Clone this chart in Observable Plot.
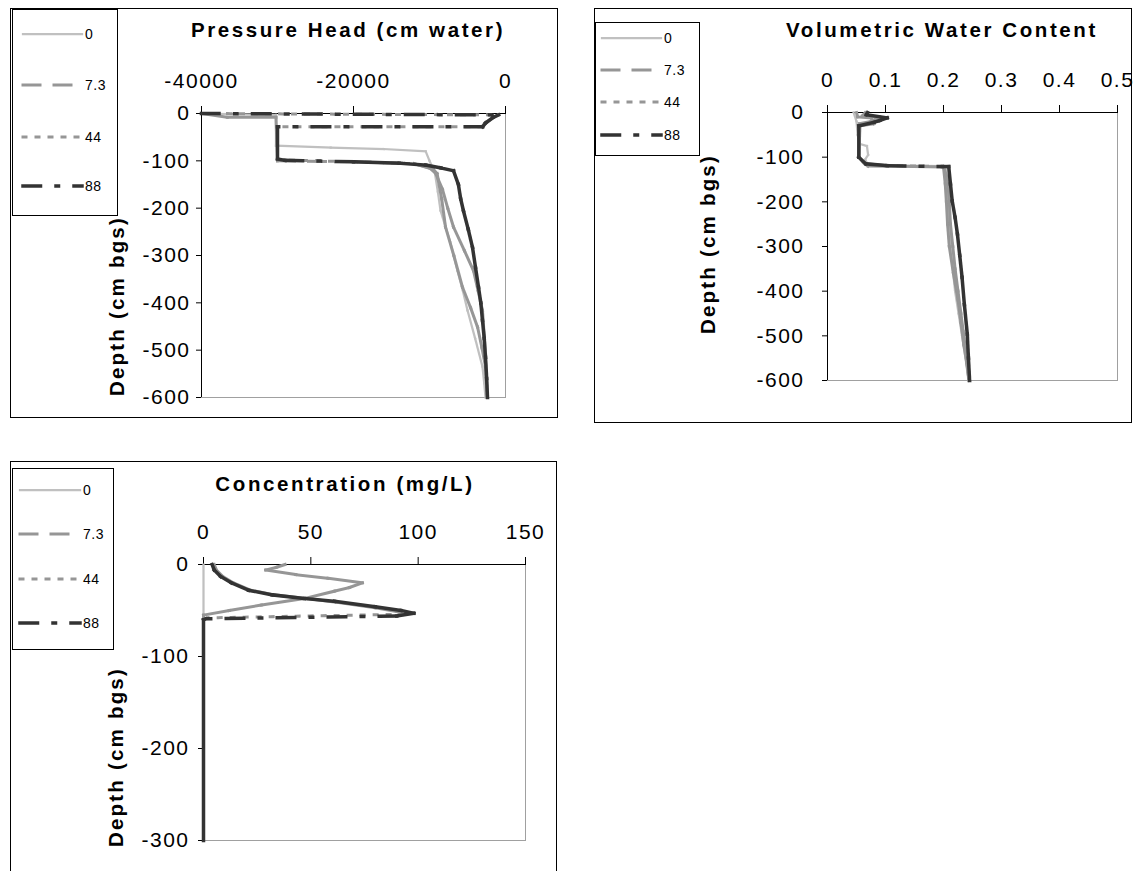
<!DOCTYPE html>
<html><head><meta charset="utf-8">
<script src="https://cdn.jsdelivr.net/npm/d3@7"></script>
<script src="https://cdn.jsdelivr.net/npm/@observablehq/plot@0.6"></script>
<style>
body{margin:0;background:#fff;overflow:hidden;}
#page{position:relative;width:1136px;height:871px;overflow:hidden;font-family:"Liberation Sans",Arial,sans-serif;background:#fff;}
.box{position:absolute;border:1px solid #000;box-sizing:border-box;}
.title{position:absolute;font-weight:bold;font-size:20.5px;letter-spacing:2.6px;white-space:nowrap;transform:translate(-50%,-50%);}
.ylab{position:absolute;font-weight:bold;font-size:20.5px;letter-spacing:2.2px;white-space:nowrap;transform:translate(-50%,-50%) rotate(-90deg);}
.abs{position:absolute;}
</style></head><body><div id="page"></div>
<script>
// ---------- series (time) ----------
const seriesNames = ["0", "7.3", "44", "88"];

// ---------- Pressure head (cm water) vs depth (cm bgs) ----------
const phDepth0 = [0, -3, -68, -72, -75, -80, -100, -125, -165, -205, -270, -332, -375, -416, -475, -535, -570, -600];
const phValue0 = [-40000, -30200, -30200, -23000, -16000, -10500, -10000, -9300, -8900, -8550, -7300, -6320, -5600, -5000, -4000, -3030, -2800, -2630];
const phDepth7 = [0, -8, -8, -100, -102, -106, -118, -127, -180, -240, -300, -367, -410, -451, -495, -535, -570, -600];
const phValue7 = [-40000, -36600, -30200, -30000, -20000, -12000, -9500, -9000, -8400, -7890, -6800, -5660, -4600, -3680, -3100, -2630, -2500, -2400];
const phDepth44 = [0, -3, -20, -28, -28, -98, -102, -106, -115, -126, -160, -200, -240, -290, -332, -375, -416, -470, -521, -560, -600];
const phValue44 = [-40000, -1000, -2700, -3100, -30000, -30000, -20000, -12000, -10000, -9210, -8300, -7600, -6840, -5400, -4210, -3600, -3030, -2800, -2630, -2500, -2370];
const phDepth88 = [0, -3, -8, -20, -28, -28, -96, -99, -102, -105, -109, -115, -121, -150, -180, -206, -245, -283, -325, -367, -400, -437, -475, -515, -560, -600];
const phValue88 = [-40000, -900, -1600, -2600, -3000, -30000, -30000, -29000, -20000, -14000, -10500, -8500, -6840, -6200, -5900, -5530, -4900, -4340, -3950, -3550, -3250, -3030, -2800, -2630, -2480, -2370];
const phXTicks = [-40000, -20000, 0];
const phYTicks = [0, -100, -200, -300, -400, -500, -600];

// ---------- Volumetric water content vs depth ----------
const wcDepth0 = [0, -20, -50, -70, -75, -95, -105, -118, -120, -125, -200, -300, -400, -450, -500, -550, -600];
const wcValue0 = [0.045, 0.05, 0.052, 0.055, 0.068, 0.07, 0.065, 0.07, 0.2, 0.205, 0.208, 0.212, 0.22, 0.226, 0.232, 0.238, 0.243];
const wcDepth7 = [0, -10, -12, -25, -30, -100, -112, -120, -121, -122, -160, -200, -250, -300, -360, -420, -470, -520, -560, -600];
const wcValue7 = [0.05, 0.052, 0.075, 0.08, 0.056, 0.054, 0.062, 0.07, 0.15, 0.2, 0.203, 0.205, 0.207, 0.21, 0.217, 0.225, 0.23, 0.235, 0.24, 0.244];
const wcDepth44 = [0, -8, -10, -20, -25, -100, -114, -119, -121, -150, -200, -250, -300, -350, -400, -450, -490, -530, -565, -600];
const wcValue44 = [0.065, 0.06, 0.09, 0.075, 0.055, 0.054, 0.064, 0.1, 0.2, 0.207, 0.21, 0.212, 0.216, 0.22, 0.225, 0.23, 0.234, 0.238, 0.241, 0.244];
const wcDepth88 = [0, -5, -12, -18, -22, -30, -100, -115, -119, -121, -121, -160, -198, -235, -272, -320, -369, -430, -496, -550, -600];
const wcValue88 = [0.069, 0.067, 0.103, 0.09, 0.08, 0.054, 0.054, 0.066, 0.103, 0.198, 0.209, 0.212, 0.215, 0.22, 0.224, 0.228, 0.232, 0.236, 0.241, 0.243, 0.245];
const wcXTicks = [0, 0.1, 0.2, 0.3, 0.4, 0.5];
const wcYTicks = [0, -100, -200, -300, -400, -500, -600];

// ---------- Concentration (mg/L) vs depth ----------
const cDepth0 = [0, -300];
const cValue0 = [0, 0];
const cDepth7 = [0, -3, -6, -11, -15, -20, -25, -29, -37, -44, -50, -55, -300];
const cValue7 = [38, 34, 29, 43, 58, 74, 68, 61, 47, 27, 12, 0, 0];
const cDepth44 = [0, -6, -13, -20, -28, -33, -37, -41, -47, -51, -54, -58, -60, -300];
const cValue44 = [5, 6, 9, 14, 22, 33, 48, 62, 80, 90, 93, 2, 0, 0];
const cDepth88 = [0, -6, -13, -20, -28, -33, -37, -40, -46, -50, -53, -56, -59, -60, -300];
const cValue88 = [4, 5, 8, 13, 21, 32, 47, 61, 80, 92, 98, 90, 1, 0, 0];
const cXTicks = [0, 50, 100, 150];
const cYTicks = [0, -100, -200, -300];

// ---------- styling ----------
const lineStyles = [
  {stroke: "#c0c0c0", strokeWidth: 2.25, dash: null},
  {stroke: "#969696", strokeWidth: 3, dash: "17,14"},
  {stroke: "#969696", strokeWidth: 3, dash: "3,10"},
  {stroke: "#333333", strokeWidth: 3.5, dash: "17.5,15.5,2.5,15.5"}
];
const FONT = '"Liberation Sans", Arial, sans-serif';
const page = document.getElementById("page");

function segments(depth, value) {
  const out = [];
  for (let i = 0; i + 1 < depth.length; i++) {
    out.push({x1: value[i], y1: depth[i], x2: value[i + 1], y2: depth[i + 1]});
  }
  return out;
}

function addDiv(cls, css, text) {
  const d = document.createElement("div");
  d.className = cls;
  Object.assign(d.style, css);
  if (text != null) d.textContent = text;
  page.appendChild(d);
  return d;
}

function panel(cfg) {
  addDiv("box", {left: cfg.box[0] + "px", top: cfg.box[1] + "px", width: cfg.box[2] + "px", height: cfg.box[3] + "px"});
  const xd = cfg.xDomain, yd = cfg.yDomain;
  const [W, H] = [cfg.svg[2], cfg.svg[3]];
  const kx = (W - cfg.m[1] - cfg.m[3]) / (xd[1] - xd[0]);
  const ky = (H - cfg.m[0] - cfg.m[2]) / (yd[1] - yd[0]);
  // Excel restarts the dash pattern on every segment: dense vertical runs look solid,
  // only the long horizontal jumps show the dash pattern.
  const isDashed = s => {
    const dx = Math.abs(s.x2 - s.x1) * kx, dy = Math.abs(s.y2 - s.y1) * ky;
    return dx > dy && Math.hypot(dx, dy) > 50;
  };
  const marks = [
    Plot.frame({stroke: "#a0a0a0"}),
    Plot.ruleY([yd[1]], {stroke: "#000"}),
    Plot.ruleX([xd[0]], {stroke: "#000"}),
    Plot.axisX(cfg.xTicks, {anchor: "top", tickSize: 8, tickPadding: 18, tickFormat: d => String(d), label: null, fontSize: 21}),
    Plot.axisY(cfg.yTicks, {anchor: "left", tickSize: 5, tickPadding: cfg.yPad, tickFormat: d => String(d), label: null, fontSize: 21})
  ];
  cfg.series.forEach((s, i) => {
    const st = lineStyles[i];
    const segs = segments(s[0], s[1]);
    const common = {x1: "x1", y1: "y1", x2: "x2", y2: "y2", stroke: st.stroke, strokeWidth: st.strokeWidth, strokeLinecap: "square"};
    marks.push(Plot.link(segs.filter(d => !isDashed(d) || !st.dash), common));
    if (st.dash) marks.push(Plot.link(segs.filter(d => isDashed(d)), {...common, strokeDasharray: st.dash}));
  });
  const svg = Plot.plot({
    width: W, height: H,
    marginLeft: cfg.m[3], marginRight: cfg.m[1], marginTop: cfg.m[0], marginBottom: cfg.m[2],
    x: {domain: xd}, y: {domain: yd},
    style: {fontFamily: FONT, fontSize: "21px", background: "transparent", overflow: "visible", letterSpacing: "1.5px"},
    marks
  });
  svg.classList.add("abs");
  svg.style.left = cfg.svg[0] + "px";
  svg.style.top = cfg.svg[1] + "px";
  page.appendChild(svg);

  addDiv("title", {left: cfg.title[0] + "px", top: cfg.title[1] + "px"}, cfg.titleText);
  addDiv("ylab", {left: cfg.ylab[0] + "px", top: cfg.ylab[1] + "px"}, "Depth (cm bgs)");

  // legend
  const lg = cfg.legend;
  const lsvg = d3.create("svg").attr("width", lg.w).attr("height", lg.h)
    .style("position", "absolute").style("left", lg.x + "px").style("top", lg.y + "px")
    .style("overflow", "visible");
  lsvg.append("rect").attr("x", 0.5).attr("y", 0.5).attr("width", lg.w - 1).attr("height", lg.h - 1)
    .attr("fill", "#fff").attr("stroke", "#000");
  seriesNames.forEach((name, i) => {
    const st = lineStyles[i];
    const y = lg.rows[i];
    lsvg.append("line").attr("x1", lg.sx[0]).attr("x2", lg.sx[1]).attr("y1", y).attr("y2", y)
      .attr("stroke", st.stroke).attr("stroke-width", st.strokeWidth)
      .attr("stroke-dasharray", st.dash).attr("stroke-linecap", "square");
    lsvg.append("text").attr("x", lg.sx[1] + 3).attr("y", y).attr("dy", "0.35em")
      .attr("font-family", FONT).attr("font-size", 14).attr("letter-spacing", "0.5px").text(name);
  });
  page.appendChild(lsvg.node());
}

panel({
  box: [10, 8, 548, 410], svg: [10, 8, 548, 410], m: [105, 53, 21, 191], yPad: 6,
  xDomain: [-40000, 0], yDomain: [-600, 0], xTicks: phXTicks, yTicks: phYTicks,
  series: [[phDepth0, phValue0], [phDepth7, phValue7], [phDepth44, phValue44], [phDepth88, phValue88]],
  title: [348, 30], titleText: "Pressure Head (cm water)", ylab: [117, 306],
  legend: {x: 12, y: 9, w: 106, h: 207, rows: [25, 76, 128, 177], sx: [11, 70]}
});
panel({
  box: [594, 8, 538, 415], svg: [594, 8, 538, 415], m: [104, 15, 43, 233], yPad: 18,
  xDomain: [0, 0.5], yDomain: [-600, 0], xTicks: wcXTicks, yTicks: wcYTicks,
  series: [[wcDepth0, wcValue0], [wcDepth7, wcValue7], [wcDepth44, wcValue44], [wcDepth88, wcValue88]],
  title: [942, 30], titleText: "Volumetric Water Content", ylab: [708, 244],
  legend: {x: 595, y: 22, w: 105, h: 134, rows: [16, 48, 80, 113], sx: [7, 66]}
});
panel({
  box: [10, 461, 547, 430], svg: [10, 461, 548, 410], m: [103, 33, 31, 193], yPad: 9,
  xDomain: [0, 150], yDomain: [-300, 0], xTicks: cXTicks, yTicks: cYTicks,
  series: [[cDepth0, cValue0], [cDepth7, cValue7], [cDepth44, cValue44], [cDepth88, cValue88]],
  title: [345, 484], titleText: "Concentration (mg/L)", ylab: [116, 757],
  legend: {x: 12, y: 468, w: 102, h: 182, rows: [22, 66, 111, 155], sx: [8, 68]}
});
</script></body></html>
